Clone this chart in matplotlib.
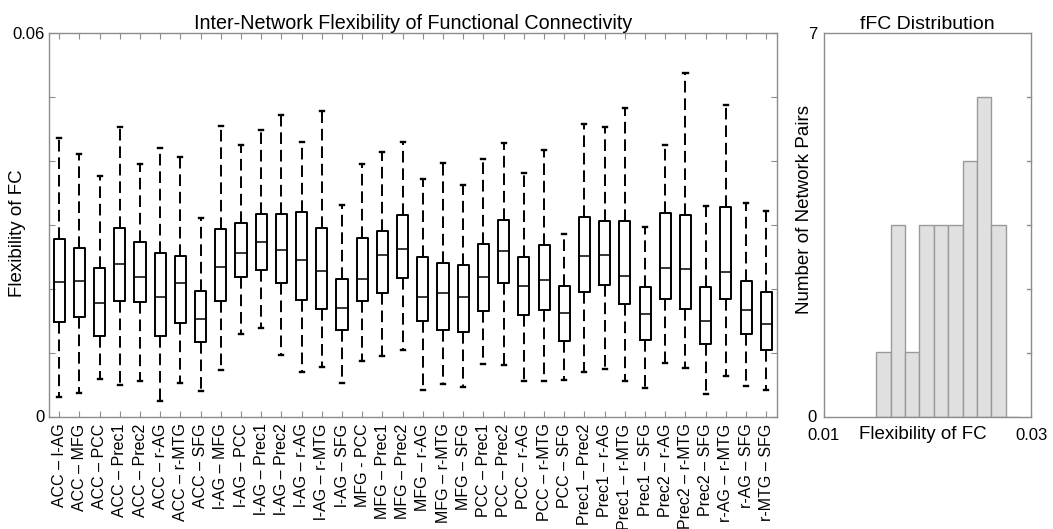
import matplotlib
matplotlib.use("Agg")
import matplotlib.pyplot as plt
import numpy as np

plt.rcParams['font.family'] = ['Liberation Sans', 'DejaVu Sans']

# Network pairs (36 combinations of 9 networks)
pairs = [
    "ACC – l-AG", "ACC – MFG", "ACC – PCC", "ACC – Prec1", "ACC – Prec2",
    "ACC – r-AG", "ACC – r-MTG", "ACC – SFG", "l-AG – MFG", "l-AG – PCC",
    "l-AG – Prec1", "l-AG – Prec2", "l-AG – r-AG", "l-AG – r-MTG", "l-AG – SFG",
    "MFG - PCC", "MFG – Prec1", "MFG – Prec2", "MFG – r-AG", "MFG – r-MTG",
    "MFG – SFG", "PCC – Prec1", "PCC – Prec2", "PCC – r-AG", "PCC – r-MTG",
    "PCC – SFG", "Prec1 – Prec2", "Prec1 – r-AG", "Prec1 – r-MTG", "Prec1 – SFG",
    "Prec2 – r-AG", "Prec2 – r-MTG", "Prec2 – SFG", "r-AG – r-MTG", "r-AG – SFG",
    "r-MTG – SFG",
]

# Box statistics of fFC per network pair
whisker_low = [0.00303, 0.00371, 0.00580, 0.00486, 0.00549, 0.00235, 0.00528, 0.00397,
               0.00732, 0.01291, 0.01380, 0.00957, 0.00690, 0.00774, 0.00528, 0.00873,
               0.00941, 0.01040, 0.00408, 0.00512, 0.00455, 0.00826, 0.00805, 0.00559,
               0.00549, 0.00570, 0.00700, 0.00742, 0.00549, 0.00450, 0.00836, 0.00763,
               0.00345, 0.00633, 0.00481, 0.00418]
q1 = [0.01485, 0.01558, 0.01265, 0.01814, 0.01793, 0.01265, 0.01464, 0.01160,
      0.01814, 0.02185, 0.02290, 0.02096, 0.01819, 0.01683, 0.01349, 0.01814,
      0.01934, 0.02169, 0.01495, 0.01354, 0.01323, 0.01647, 0.02081, 0.01584,
      0.01668, 0.01176, 0.01945, 0.02065, 0.01756, 0.01197, 0.01845, 0.01678,
      0.01134, 0.01845, 0.01291, 0.01035]
median = [0.02107, 0.02117, 0.01772, 0.02384, 0.02185, 0.01877, 0.02086, 0.01532,
          0.02337, 0.02556, 0.02734, 0.02598, 0.02452, 0.02284, 0.01704, 0.02159,
          0.02525, 0.02624, 0.01877, 0.01929, 0.01877, 0.02175, 0.02593, 0.02049,
          0.02128, 0.01615, 0.02514, 0.02520, 0.02201, 0.01600, 0.02321, 0.02305,
          0.01490, 0.02258, 0.01668, 0.01443]
q3 = [0.02781, 0.02635, 0.02316, 0.02943, 0.02729, 0.02561, 0.02504, 0.01966,
      0.02927, 0.03021, 0.03168, 0.03173, 0.03199, 0.02943, 0.02159, 0.02791,
      0.02896, 0.03147, 0.02488, 0.02405, 0.02368, 0.02697, 0.03068, 0.02493,
      0.02687, 0.02044, 0.03121, 0.03053, 0.03053, 0.02023, 0.03184, 0.03152,
      0.02028, 0.03272, 0.02117, 0.01950]
whisker_high = [0.04354, 0.04103, 0.03764, 0.04532, 0.03957, 0.04198, 0.04062, 0.03100,
                0.04548, 0.04250, 0.04485, 0.04720, 0.04292, 0.04773, 0.03309, 0.03947,
                0.04140, 0.04292, 0.03711, 0.03962, 0.03617, 0.04036, 0.04276, 0.03816,
                0.04171, 0.02859, 0.04569, 0.04537, 0.04820, 0.02969, 0.04250, 0.05374,
                0.03293, 0.04872, 0.03335, 0.03220]

# Histogram of pair-wise fFC
hist_bin_edges = [0.01505, 0.01644, 0.01783, 0.01922, 0.02061, 0.02200,
                  0.02339, 0.02478, 0.02617, 0.02756, 0.02895]
hist_heights = [1.17, 3.5, 1.17, 3.5, 3.5, 3.5, 4.67, 5.83, 3.5, 0.0]

SPINE = "#8c8c8c"
W, H = 1053, 529
fig = plt.figure(figsize=(W / 100, H / 100), dpi=100)

def axes_px(x0, x1, y0, y1):
    return fig.add_axes([x0 / W, 1 - y1 / H, (x1 - x0) / W, (y1 - y0) / H])

# ---- Left panel: boxplots ----
ax = axes_px(48.5, 777, 33, 416.5)
stats = []
for i in range(len(pairs)):
    stats.append(dict(whislo=whisker_low[i], q1=q1[i], med=median[i],
                      q3=q3[i], whishi=whisker_high[i], fliers=[]))
positions = np.arange(1, len(pairs) + 1)
ax.bxp(stats, positions=positions, widths=0.55, capwidths=0.2,
       showfliers=False,
       boxprops=dict(color="black", linewidth=1.4),
       medianprops=dict(color="black", linewidth=1.1),
       whiskerprops=dict(color="black", linewidth=1.4, linestyle=(0, (6, 3))),
       capprops=dict(color="black", linewidth=1.7))
ax.set_xlim(0.47, 36.53)
ax.set_ylim(0, 0.06)
ax.set_xticks(positions)
ax.set_xticklabels(pairs, rotation=90, fontsize=11.5)
yt = np.arange(0, 0.0601, 0.01)
ax.set_yticks(yt)
ax.set_yticklabels(["0"] + [""] * 5 + ["0.06"], fontsize=12)
ax.tick_params(axis="both", direction="in", length=4, color=SPINE,
               top=True, right=True)
ax.tick_params(axis="x", pad=5)
ax.tick_params(axis="y", pad=3)
for s in ax.spines.values():
    s.set_color(SPINE)
    s.set_linewidth(1.0)
ax.set_title("Inter-Network Flexibility of Functional Connectivity",
             fontsize=14.2, pad=3)
ax.set_ylabel("Flexibility of FC", fontsize=13.5)
ax.yaxis.set_label_coords(-0.031, 0.478)

# ---- Right panel: histogram ----
hx = axes_px(824, 1031, 33, 416.5)
for left, right, h in zip(hist_bin_edges[:-1], hist_bin_edges[1:], hist_heights):
    hx.bar(left, h, width=right - left, align="edge", facecolor="#e0e0e0",
           edgecolor="#9a9a9a", linewidth=1.0)
hx.set_xlim(0.01, 0.03)
hx.set_ylim(0, 7)
hx.set_xticks([0.01, 0.03])
hx.set_xticklabels(["0.01", "0.03"], fontsize=12)
hx.set_yticks(np.linspace(0, 7, 7))
hx.set_yticklabels(["0"] + [""] * 5 + ["7"], fontsize=12)
hx.tick_params(axis="x", direction="in", length=4, color=SPINE, pad=8)
hx.tick_params(axis="y", length=0, pad=5)
for s in hx.spines.values():
    s.set_color(SPINE)
    s.set_linewidth(1.0)
hx.set_title("fFC Distribution", fontsize=14, pad=3)
hx.set_xlabel("Flexibility of FC", fontsize=13.5)
hx.xaxis.set_label_coords(0.476, -0.025)
hx.set_ylabel("Number of Network Pairs", fontsize=13.5)
hx.yaxis.set_label_coords(-0.053, 0.541)
# right-hand tick marks on the histogram frame
for y in np.linspace(0, 7, 7)[1:-1]:
    hx.plot([0.0296, 0.03], [y, y], color=SPINE, linewidth=1.0, clip_on=False)

fig.savefig("out.png", dpi=100)
